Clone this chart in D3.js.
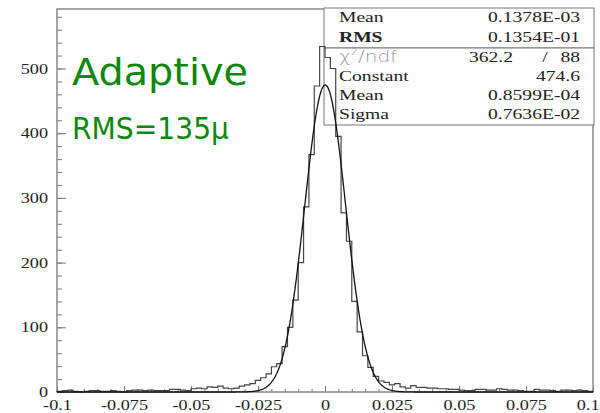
<!DOCTYPE html>
<html>
<head>
<meta charset="utf-8">
<script src="https://cdn.jsdelivr.net/npm/d3@7"></script>
<style>
  body { margin: 0; background: #fff; }
  svg { display: block; }
</style>
</head>
<body>
<div id="plot"></div>
<script>
// Histogram: 100 bins of 0.002 from -0.1 to 0.1
const binLow = -0.1;
const binWidth = 0.002;
const counts = [
    1, 2, 3, 1, 0, 1, 2, 2, 1, 1,
    2, 1, 0, 2, 3, 3, 2, 3, 2, 2,
    2, 4, 4, 3, 2, 5, 6, 5, 8, 7,
    9, 6, 5, 6, 9, 11, 13, 18, 22, 28,
    39, 44, 70, 100, 142, 200, 286, 367, 473, 534,
    517, 500, 395, 277, 233, 140, 93, 56, 38, 24,
    17, 15, 11, 13, 8, 6, 10, 7, 7, 6,
    6, 5, 5, 4, 4, 3, 2, 2, 4, 4,
    3, 3, 5, 4, 3, 3, 2, 1, 1, 4,
    3, 3, 2, 1, 3, 3, 2, 3, 2, 1
];

// Gaussian fit parameters (from the stats box)
const fitConstant = 474.6;
const fitMean = 0.8599e-4;
const fitSigma = 0.7636e-2;

const xTicks = [-0.1, -0.075, -0.05, -0.025, 0, 0.025, 0.05, 0.075, 0.1];
const xTickLabels = ["-0.1", "-0.075", "-0.05", "-0.025", "0", "0.025", "0.05", "0.075", "0.1"];
const yTicks = [0, 100, 200, 300, 400, 500];

const statsTopLabels = ["Mean", "RMS"];
const statsTopValues = ["0.1378E-03", "0.1354E-01"];
const fitLabels = ["Constant", "Mean", "Sigma"];
const fitValues = ["474.6", "0.8599E-04", "0.7636E-02"];
const chi2 = "362.2";
const ndf = "88";

const margin = {top: 9, right: 7, bottom: 21, left: 57};
const width = 600 - margin.left - margin.right;
const height = 413 - margin.top - margin.bottom;

const svgRoot = d3.select("#plot")
    .append("svg")
    .attr("width", 600)
    .attr("height", 413);

const svg = svgRoot.append("g")
    .attr("transform", `translate(${margin.left},${margin.top})`);

const x = d3.scaleLinear().domain([-0.1, 0.1]).range([0, width]);
const y = d3.scaleLinear().domain([0, 592]).range([height, 0]);

const serif = "'Liberation Serif', 'Times New Roman', serif";
const stretch = 1.3;

// Minor + major ticks, Y
svg.append("g")
    .call(d3.axisLeft(y).tickValues(d3.range(0, 592, 20)).tickSize(-5).tickFormat(""))
    .call(g => g.select(".domain").remove())
    .selectAll("line").attr("stroke", "#777");

const yAxis = svg.append("g")
    .call(d3.axisLeft(y).tickValues(yTicks).tickSize(-9).tickPadding(0))
    .call(g => g.select(".domain").remove());
yAxis.selectAll("line").attr("stroke", "#777");
yAxis.selectAll("text")
    .attr("x", -9 / stretch)
    .attr("transform", `scale(${stretch},1)`)
    .attr("fill", "#222")
    .style("font-family", serif)
    .style("font-size", "14px");

// Minor + major ticks, X
svg.append("g")
    .attr("transform", `translate(0,${height})`)
    .call(d3.axisBottom(x).tickValues(d3.range(-20, 21).map(i => i * 0.005)).tickSize(-3).tickFormat(""))
    .call(g => g.select(".domain").remove())
    .selectAll("line").attr("stroke", "#777");

const xAxis = svg.append("g")
    .attr("transform", `translate(0,${height})`)
    .call(d3.axisBottom(x).tickValues(xTicks).tickSize(-6).tickPadding(8)
        .tickFormat((d, i) => xTickLabels[i]))
    .call(g => g.select(".domain").remove());
xAxis.selectAll("line").attr("stroke", "#777");
xAxis.selectAll("text")
    .attr("transform", `scale(${stretch},1)`)
    .attr("fill", "#222")
    .style("font-family", serif)
    .style("font-size", "14px");
// last label sits at the right edge of the page, keep it inside
xAxis.selectAll("text")
    .filter(d => d === 0.1)
    .attr("text-anchor", "end")
    .attr("x", (600 - margin.left - width - 1) / stretch);

// Frame
svg.append("rect")
    .attr("width", width)
    .attr("height", height)
    .attr("fill", "none")
    .attr("stroke", "#888")
    .attr("stroke-width", 1.5);

// Stats boxes (drawn under the histogram)
const boxLeft = 324 - margin.left;
const boxRight = 594 - margin.left;
svg.append("rect")
    .attr("x", boxLeft).attr("y", 8 - margin.top)
    .attr("width", boxRight - boxLeft).attr("height", 40)
    .attr("fill", "#fff").attr("stroke", "#777").attr("stroke-width", 1);
svg.append("rect")
    .attr("x", boxLeft).attr("y", 48 - margin.top)
    .attr("width", boxRight - boxLeft).attr("height", 77)
    .attr("fill", "#fff").attr("stroke", "#777").attr("stroke-width", 1);

// Histogram outline
const histPoints = [[x(binLow), y(0)]];
counts.forEach((c, i) => {
    const lo = binLow + i * binWidth;
    histPoints.push([x(lo), y(c)]);
    histPoints.push([x(lo + binWidth), y(c)]);
});
histPoints.push([x(binLow + counts.length * binWidth), y(0)]);

svg.append("path")
    .attr("d", d3.line()(histPoints))
    .attr("fill", "none")
    .attr("stroke", "#444")
    .attr("stroke-width", 1.2);

// Gaussian fit curve
function gauss(v) {
    return fitConstant * Math.exp(-0.5 * Math.pow((v - fitMean) / fitSigma, 2));
}
const curve = d3.range(0, 801).map(i => {
    const v = -0.1 + i * 0.00025;
    return [v, gauss(v)];
});
svg.append("path")
    .datum(curve)
    .attr("d", d3.line().x(d => x(d[0])).y(d => y(d[1])))
    .attr("fill", "none")
    .attr("stroke", "#111")
    .attr("stroke-width", 1.3);

// Stats text
const statStretch = 1.4;
const labelX = 339;
const valueX = 580;
const rowY = [22, 42, 62, 81, 100, 119];

function statText(txt, px, py, anchor, weight) {
    return svgRoot.append("text")
        .attr("transform", `translate(${px},${py}) scale(${statStretch},1)`)
        .attr("text-anchor", anchor)
        .attr("fill", "#222")
        .style("font-family", serif)
        .style("font-size", "14px")
        .style("font-weight", weight || "normal")
        .text(txt);
}

statsTopLabels.forEach((t, i) => statText(t, labelX, rowY[i], "start", t === "RMS" ? "bold" : "normal"));
statsTopValues.forEach((t, i) => statText(t, valueX, rowY[i], "end"));

const chiLabel = svgRoot.append("text")
    .attr("transform", `translate(${labelX},${rowY[2]}) scale(1.25,1)`)
    .attr("fill", "#999")
    .style("font-family", "'DejaVu Sans', sans-serif")
    .style("font-size", "16px")
    .style("font-weight", "300");
chiLabel.append("tspan").text("χ");
chiLabel.append("tspan").attr("dy", -7).style("font-size", "9px").text("2");
chiLabel.append("tspan").attr("dy", 7).text("/ndf");

statText(chi2, 513, rowY[2], "end");
statText("/", 545, rowY[2], "middle");
statText(ndf, valueX, rowY[2], "end");

fitLabels.forEach((t, i) => statText(t, labelX, rowY[i + 3], "start"));
fitValues.forEach((t, i) => statText(t, valueX, rowY[i + 3], "end"));

// Green annotations
svgRoot.append("text")
    .attr("x", 72)
    .attr("y", 85)
    .attr("fill", "#0b870b")
    .attr("textLength", 176)
    .attr("lengthAdjust", "spacingAndGlyphs")
    .style("font-family", "'DejaVu Sans', sans-serif")
    .style("font-size", "38px")
    .text("Adaptive");

svgRoot.append("text")
    .attr("x", 72)
    .attr("y", 139)
    .attr("fill", "#0b870b")
    .attr("textLength", 157)
    .attr("lengthAdjust", "spacingAndGlyphs")
    .style("font-family", "'DejaVu Sans', sans-serif")
    .style("font-size", "30px")
    .text("RMS=135μ");
</script>
</body>
</html>
